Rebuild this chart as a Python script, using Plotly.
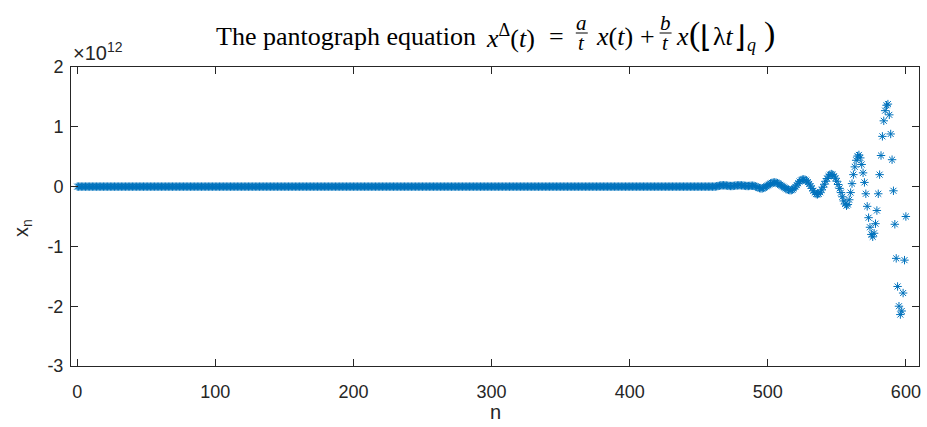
import plotly.graph_objects as go

# ---------------- data (values of x_n in units of 1e12) ----------------
n_index = list(range(0, 601))
x_flat = [0.0] * 463            # n = 0 .. 462 (visually zero)
x_tail = [                      # n = 463 .. 600
    0.005, 0.01, 0.015, 0.02, 0.022, 0.022, 0.02, 0.018,
    0.015, 0.012, 0.01, 0.01, 0.012, 0.015, 0.018, 0.02, 0.022, 0.022,
    0.02, 0.018, 0.015, 0.012, 0.01, 0.01, 0.012, 0.015, 0.015, 0.012,
    0.005, -0.005, -0.015, -0.025, -0.03, -0.03, -0.022, -0.01, 0.005, 0.02,
    0.035, 0.05, 0.062, 0.068, 0.07, 0.066, 0.058, 0.045, 0.03, 0.015,
    0.0, -0.015, -0.03, -0.045, -0.055, -0.06, -0.06, -0.05, -0.03, -0.005,
    0.025, 0.055, 0.085, 0.105, 0.118, 0.12, 0.115, 0.1, 0.075, 0.045,
    0.01, -0.03, -0.07, -0.1, -0.125, -0.13, -0.12, -0.095, -0.055, -0.01,
    0.04, 0.09, 0.135, 0.175, 0.2, 0.21, 0.2, 0.175, 0.14, 0.09,
    0.035, -0.03, -0.1, -0.17, -0.24, -0.29, -0.32, -0.3, -0.22, -0.1,
    0.05, 0.2, 0.33, 0.44, 0.51, 0.53, 0.48, 0.37, 0.23, 0.07,
    -0.12, -0.33, -0.52, -0.68, -0.8, -0.84, -0.78, -0.62, -0.4, -0.12,
    0.2, 0.52, 0.84, 1.1, 1.27, 1.36, 1.38, 1.2, 0.88, 0.45,
    -0.07, -0.63, -1.2, -1.67, -2.0, -2.14, -2.08, -1.78, -1.23, -0.5,
]
x_values = x_flat + x_tail

x_ticks = [0, 100, 200, 300, 400, 500, 600]
y_ticks = [-3, -2, -1, 0, 1, 2]
y_tick_labels = ["-3", "-2", "-1", "0", "1", "2"]

# ---------------- layout helpers ----------------
W, H = 927, 427
PL, PR, PT, PB = 71, 921, 67, 366
AX = "#262626"
BLUE = "#0072BD"
SERIF = "Liberation Serif"
SANS = "Liberation Sans"


def px(xp):
    return (xp - PL) / (PR - PL)


def py(yp):
    return (PB - yp) / (PB - PT)


fig = go.Figure()
fig.add_trace(go.Scatter(
    x=n_index, y=x_values, mode="markers",
    marker=dict(symbol="asterisk-open", size=7, color=BLUE,
                line=dict(width=1, color=BLUE)),
    showlegend=False, hoverinfo="x+y",
))

axis_common = dict(
    showline=True, linecolor=AX, linewidth=1, mirror="ticks",
    ticks="inside", ticklen=7, tickcolor=AX, tickwidth=1,
    showgrid=False, zeroline=False,
    tickfont=dict(family=SANS, size=18, color=AX),
)
fig.update_xaxes(range=[-4.5, 609.5], tickvals=x_ticks,
                 ticklabelstandoff=9, **axis_common)
fig.update_yaxes(range=[-3, 2], tickvals=y_ticks, ticktext=y_tick_labels,
                 ticklabelstandoff=3, **axis_common)

ann = []


def text(s, xp, yp, xanchor="left", size=26, family=SERIF, angle=0,
         color="black"):
    ann.append(dict(text=s, x=px(xp), y=py(yp), xref="paper", yref="paper",
                    xanchor=xanchor, yanchor="middle", showarrow=False,
                    textangle=angle,
                    font=dict(family=family, size=size, color=color)))


# title pieces
text("The pantograph equation", 214, 36)
text("<i>x</i><sup>Δ</sup>(<i>t</i>)", 485, 36)
text("=", 558, 36, xanchor="center")
text("<i>a</i>", 583, 23, xanchor="center", size=21)
text("<i>t</i>", 583, 43, xanchor="center", size=21)
text("<i>x</i>(<i>t</i>)", 595, 36)
text("+", 649, 36, xanchor="center")
text("<i>b</i>", 667, 23, xanchor="center", size=21)
text("<i>t</i>", 667, 43, xanchor="center", size=21)
text("<i>x</i>", 675, 36)
text("(", 696, 34, xanchor="center", size=34)
text("⌊", 707, 36, xanchor="center", size=30)
text("λ<i>t</i>", 713, 36)
text("⌋", 742, 36, xanchor="center", size=30)
text("<i>q</i>", 753, 45, xanchor="center", size=18)
text(")", 771, 34, xanchor="center", size=34)

# exponent and axis labels
text("×10<sup>12</sup>", 71, 51, size=20, family=SANS, color=AX)
text("n", (PL + PR) / 2, 412, xanchor="center", size=20, family=SANS,
     color=AX)
text("x<sub>n</sub>", 22, 228, xanchor="center", size=20, family=SANS,
     angle=-90, color=AX)

shapes = [
    dict(type="line", xref="paper", yref="paper", x0=px(577), x1=px(589),
         y0=py(33), y1=py(33), line=dict(color="black", width=1)),
    dict(type="line", xref="paper", yref="paper", x0=px(661), x1=px(673),
         y0=py(33), y1=py(33), line=dict(color="black", width=1)),
]

fig.update_layout(
    width=W, height=H,
    margin=dict(l=PL, r=W - PR, t=PT, b=H - PB, pad=0),
    paper_bgcolor="white", plot_bgcolor="white",
    annotations=ann, shapes=shapes,
)

fig.write_html("out.html")
